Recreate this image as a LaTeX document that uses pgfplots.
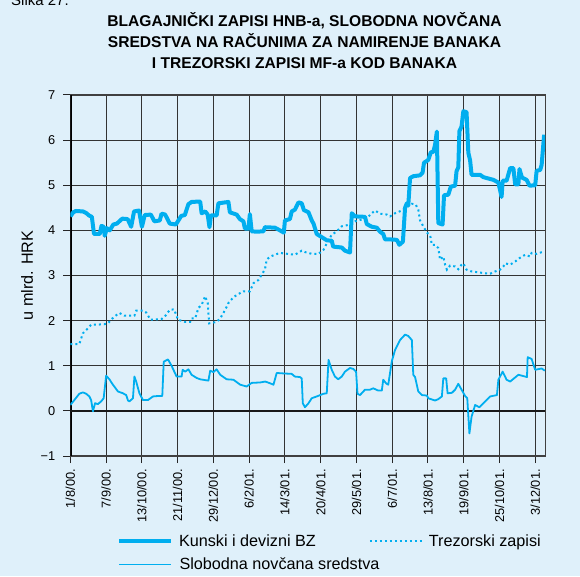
\documentclass[border=0pt]{standalone}
\usepackage{fontspec}
\setmainfont{Liberation Sans}
\usepackage{pgfplots}
\pgfplotsset{compat=1.18}
\definecolor{bgblue}{RGB}{223,240,250}
\definecolor{hnbcyan}{RGB}{0,174,239}
\begin{document}
\begin{tikzpicture}
\path[use as bounding box] (0pt,0pt) rectangle (580pt,576pt);
\fill[bgblue] (0pt,0pt) rectangle (580pt,576pt);
\node[anchor=base west, font=\fontsize{15}{18}\selectfont, inner sep=0pt] at (11pt,570pt) {Slika 27.};
\node[anchor=base, font=\fontsize{15.6}{18}\selectfont\bfseries, inner sep=0pt] at (304.5pt,549pt) {BLAGAJNIČKI ZAPISI HNB-a, SLOBODNA NOVČANA};
\node[anchor=base, font=\fontsize{15.6}{18}\selectfont\bfseries, inner sep=0pt] at (304.5pt,528pt) {SREDSTVA NA RAČUNIMA ZA NAMIRENJE BANAKA};
\node[anchor=base, font=\fontsize{15.6}{18}\selectfont\bfseries, inner sep=0pt] at (304.5pt,507pt) {I TREZORSKI ZAPISI MF-a KOD BANAKA};
\begin{axis}[
  at={(70.4pt,120pt)}, anchor=south west, scale only axis,
  width=474.8pt, height=361pt,
  xmin=0, xmax=13.28, ymin=-1, ymax=7,
  xtick={0,...,13},
  xticklabels={1/8/00.,7/9/00.,13/10/00.,21/11/00.,29/12/00.,6/2/01.,14/3/01.,20/4/01.,29/5/01.,6/7/01.,13/8/01.,19/9/01.,25/10/01.,3/12/01.},
  ytick={-1,0,1,2,3,4,5,6,7},
  yticklabels={−1,0,1,2,3,4,5,6,7},
  grid=major,
  major grid style={draw=black!80, line width=1.1pt},
  axis line style={draw=black!75, line width=1.2pt},
  tick align=outside, xtick pos=left, ytick pos=left,
  major tick length=7pt,
  tick style={black!85, line width=1pt},
  xticklabel shift=6pt, yticklabel shift=8pt,
  x tick label style={rotate=90, anchor=east, inner sep=0pt, font=\fontsize{12.8}{14}\selectfont},
  y tick label style={anchor=east, inner sep=0pt, font=\fontsize{12.8}{14}\selectfont},
  ylabel={u mlrd. HRK},
  every axis y label/.style={at={(axis description cs:-0.0914,0.5)}, rotate=90, anchor=center, font=\fontsize{16.2}{18}\selectfont},
  legend columns=2,
  legend image code/.code={\draw[#1] (0pt,5.5pt) -- (52pt,5.5pt);},
  legend style={draw=none, fill=none, at={(axis description cs:0.0982,-0.21884)}, anchor=north west,
    inner sep=0pt, outer sep=0pt, font=\fontsize{16.2}{18}\selectfont, row sep=9.9pt,
    nodes={inner sep=0pt, anchor=base west},
    /tikz/every odd column/.append style={column sep=6pt},
    /tikz/every even column/.append style={column sep=53pt}},
]
\draw[black, line width=2.2pt] (rel axis cs:0,0) -- (rel axis cs:0,1);
\draw[black!90, line width=2.2pt] (axis cs:0,0) -- (axis cs:13.28,0);
\addplot[hnbcyan, line width=4pt, line join=round] coordinates {
(0.00,4.31)(0.08,4.40)(0.15,4.43)(0.35,4.42)(0.45,4.38)(0.52,4.33)(0.60,4.30)(0.66,3.92)(0.82,3.92)(0.87,4.10)(0.93,4.08)(0.96,3.88)(1.02,4.05)(1.10,4.00)(1.20,4.13)(1.30,4.15)(1.45,4.26)(1.60,4.25)(1.70,4.08)(1.78,4.42)(1.92,4.44)(2.00,4.08)(2.08,4.34)(2.25,4.35)(2.35,4.20)(2.50,4.22)(2.55,4.37)(2.65,4.35)(2.78,4.15)(2.95,4.13)(3.10,4.32)(3.20,4.34)(3.30,4.58)(3.39,4.63)(3.63,4.64)(3.67,4.38)(3.77,4.42)(3.84,4.35)(3.89,4.07)(3.93,4.33)(4.09,4.33)(4.14,4.60)(4.42,4.63)(4.46,4.40)(4.65,4.35)(4.74,4.25)(4.84,4.20)(4.88,4.04)(4.98,4.04)(5.02,4.36)(5.07,3.98)(5.21,3.97)(5.40,3.98)(5.44,4.07)(5.72,4.06)(5.86,4.00)(5.97,3.95)(6.00,4.22)(6.14,4.25)(6.19,4.42)(6.28,4.46)(6.38,4.62)(6.47,4.60)(6.53,4.45)(6.66,4.40)(6.75,4.22)(6.80,4.15)(6.89,3.92)(7.03,3.85)(7.17,3.78)(7.31,3.77)(7.35,3.64)(7.59,3.62)(7.68,3.55)(7.82,3.51)(7.87,4.38)(7.96,4.31)(8.24,4.30)(8.29,4.14)(8.43,4.08)(8.57,4.06)(8.66,3.97)(8.75,3.92)(8.80,3.80)(8.94,3.80)(9.13,3.79)(9.20,3.68)(9.30,3.75)(9.36,4.50)(9.41,4.60)(9.45,4.55)(9.50,5.16)(9.59,5.20)(9.78,5.22)(9.85,5.28)(9.89,5.50)(10.01,5.56)(10.08,5.73)(10.15,5.74)(10.20,5.90)(10.25,6.19)(10.29,4.16)(10.41,4.13)(10.45,4.78)(10.57,4.79)(10.64,4.97)(10.76,4.99)(10.80,5.31)(10.85,5.40)(10.88,6.20)(10.94,6.30)(10.99,6.64)(11.08,6.62)(11.13,5.72)(11.18,5.55)(11.22,5.23)(11.46,5.23)(11.55,5.18)(11.64,5.16)(11.83,5.12)(11.97,5.06)(12.06,4.74)(12.09,5.10)(12.20,5.10)(12.30,5.38)(12.39,5.38)(12.44,5.02)(12.53,5.02)(12.56,5.36)(12.63,5.17)(12.76,5.12)(12.84,4.99)(13.00,5.00)(13.04,5.32)(13.14,5.34)(13.18,5.45)(13.25,6.12)
};
\addlegendentry{Kunski i devizni BZ}
\addplot[hnbcyan, line width=2pt, dash pattern=on 2pt off 3pt] coordinates {
(0,1.48)(0.25,1.48)(0.35,1.72)(0.49,1.83)(0.58,1.91)(0.72,1.91)(0.95,1.92)(1.05,1.94)(1.14,2.02)(1.23,2.09)(1.37,2.17)(1.51,2.11)(1.79,2.11)(1.84,2.22)(2.03,2.22)(2.12,2.18)(2.24,2.02)(2.54,2.03)(2.64,2.09)(2.78,2.24)(2.90,2.25)(3.01,2.02)(3.21,1.97)(3.35,1.97)(3.39,2.05)(3.49,2.05)(3.58,2.28)(3.67,2.35)(3.77,2.54)(3.81,2.45)(3.84,2.40)(3.88,1.94)(4.09,1.97)(4.19,2.05)(4.33,2.24)(4.42,2.39)(4.56,2.52)(4.70,2.59)(4.84,2.65)(5.02,2.65)(5.12,2.83)(5.26,2.90)(5.35,3.02)(5.44,3.13)(5.49,3.35)(5.59,3.42)(5.72,3.46)(5.86,3.50)(6.28,3.46)(6.47,3.55)(6.56,3.52)(6.75,3.48)(6.94,3.48)(7.08,3.57)(7.22,3.79)(7.31,3.90)(7.45,3.98)(7.59,4.09)(7.77,4.12)(7.96,4.20)(8.15,4.24)(8.29,4.27)(8.43,4.38)(8.52,4.44)(8.66,4.37)(8.85,4.35)(8.94,4.31)(9.08,4.38)(9.27,4.44)(9.41,4.52)(9.55,4.59)(9.66,4.57)(9.73,4.46)(9.78,4.22)(9.87,4.09)(9.97,3.95)(10.06,3.90)(10.11,3.68)(10.20,3.68)(10.29,3.61)(10.34,3.35)(10.43,3.42)(10.48,3.24)(10.53,3.13)(10.62,3.22)(10.76,3.20)(10.85,3.14)(10.94,3.24)(10.99,3.27)(11.08,3.13)(11.22,3.09)(11.41,3.07)(11.60,3.05)(11.74,3.04)(11.88,3.09)(12.02,3.13)(12.11,3.20)(12.16,3.27)(12.30,3.24)(12.44,3.31)(12.57,3.39)(12.72,3.46)(12.86,3.42)(12.90,3.50)(13.04,3.48)(13.23,3.53)
};
\addlegendentry{Trezorski zapisi}
\addplot[hnbcyan, line width=1.8pt, line join=round] coordinates {
(0,0.13)(0.11,0.24)(0.25,0.38)(0.35,0.41)(0.44,0.38)(0.53,0.32)(0.58,0.24)(0.63,-0.01)(0.69,0.17)(0.77,0.15)(0.86,0.21)(0.93,0.28)(1.00,0.78)(1.09,0.70)(1.19,0.58)(1.33,0.43)(1.47,0.39)(1.56,0.35)(1.61,0.23)(1.65,0.21)(1.75,0.28)(1.79,0.76)(1.84,0.65)(1.93,0.39)(2.03,0.24)(2.17,0.24)(2.31,0.32)(2.45,0.33)(2.57,0.33)(2.61,1.09)(2.73,1.14)(2.83,1.00)(2.97,0.76)(3.11,0.76)(3.14,0.91)(3.21,0.87)(3.30,0.92)(3.39,0.80)(3.53,0.73)(3.63,0.70)(3.86,0.67)(3.91,0.89)(4.00,0.86)(4.09,0.92)(4.19,0.80)(4.37,0.70)(4.56,0.69)(4.75,0.58)(4.93,0.54)(5.07,0.62)(5.31,0.63)(5.45,0.65)(5.59,0.61)(5.68,0.58)(5.77,0.84)(5.96,0.83)(6.19,0.82)(6.28,0.76)(6.42,0.75)(6.47,0.72)(6.50,0.17)(6.56,0.08)(6.66,0.17)(6.75,0.28)(6.89,0.32)(7.08,0.38)(7.17,0.39)(7.22,1.13)(7.31,0.91)(7.40,0.76)(7.49,0.70)(7.59,0.76)(7.68,0.87)(7.82,0.95)(7.91,0.93)(7.99,0.87)(8.03,0.38)(8.10,0.35)(8.24,0.47)(8.38,0.47)(8.47,0.50)(8.61,0.45)(8.71,0.45)(8.75,0.69)(8.83,0.61)(8.89,0.58)(8.99,1.10)(9.08,1.35)(9.22,1.57)(9.36,1.69)(9.45,1.66)(9.55,1.57)(9.59,0.80)(9.64,0.75)(9.73,0.43)(9.83,0.35)(9.97,0.34)(10.01,0.28)(10.20,0.23)(10.29,0.26)(10.39,0.32)(10.43,0.72)(10.51,0.72)(10.55,0.39)(10.67,0.40)(10.76,0.47)(10.85,0.60)(10.94,0.47)(11.04,0.33)(11.10,0.28)(11.16,-0.50)(11.22,-0.13)(11.32,0.13)(11.44,0.08)(11.60,0.21)(11.74,0.32)(11.93,0.35)(11.97,0.69)(12.09,0.87)(12.20,0.69)(12.30,0.65)(12.53,0.80)(12.77,0.75)(12.79,1.19)(12.90,1.15)(13.00,0.91)(13.18,0.94)(13.27,0.89)
};
\addlegendentry{\makebox[0pt][l]{Slobodna novčana sredstva}}
\end{axis}
\end{tikzpicture}
\end{document}
